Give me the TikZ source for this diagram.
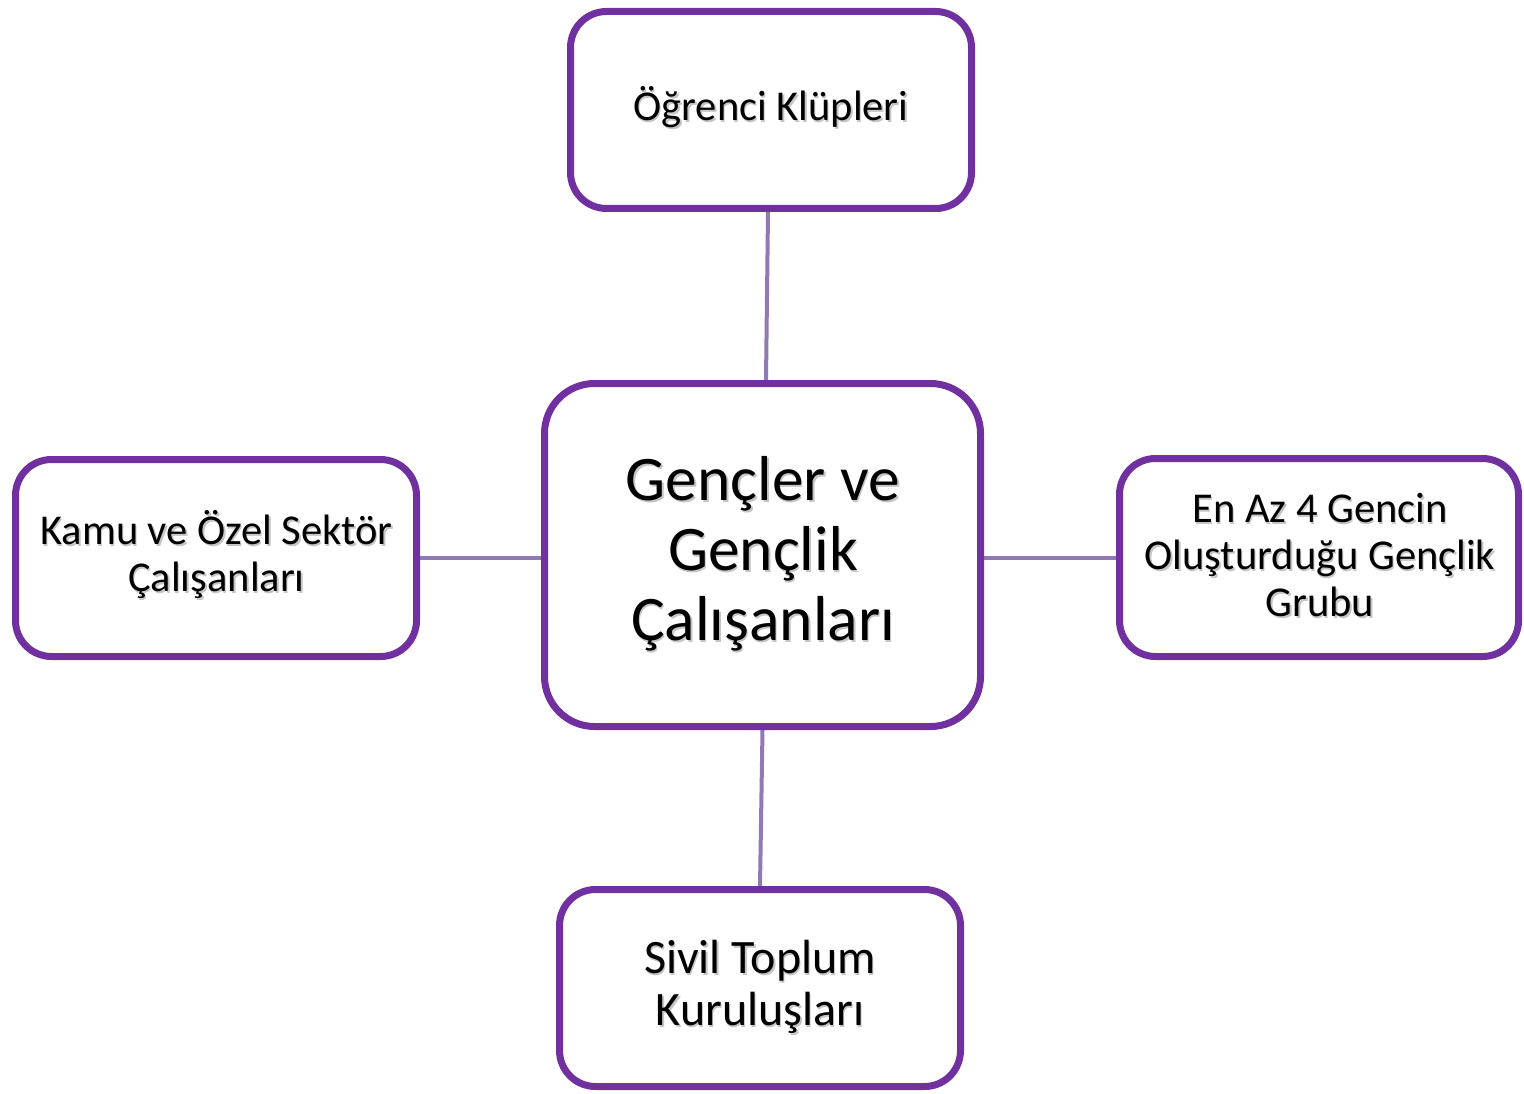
\documentclass[tikz,border=0pt]{standalone}
\usepackage{fontspec}
\setmainfont{Carlito}
\usetikzlibrary{shadows,backgrounds}
\definecolor{boxpurple}{HTML}{7030A0}
\definecolor{linkpurple}{HTML}{8F7AB5}
\tikzset{
  box/.style={draw=boxpurple, line width=7pt, fill=white, rounded corners=36pt,
    drop shadow={shadow xshift=2pt, shadow yshift=-3pt, opacity=0.25, fill=black}},
  txt/.style={align=center, text=black, inner sep=0pt},
  txtshadow/.style={align=center, text=black!45, opacity=0.5, inner sep=0pt},
  link/.style={draw=linkpurple, line width=4pt},
  small/.style={font=\fontsize{42.5}{47}\selectfont},
  mid/.style={font=\fontsize{48}{52}\selectfont},
  big/.style={font=\fontsize{63.5}{70}\selectfont}
}
\begin{document}
\begin{tikzpicture}[x=1pt,y=-1pt]
\useasboundingbox (0,0) rectangle (1524,1094);
% boxes
\node[box, minimum width=401pt, minimum height=197pt] (top) at (771,110) {};
\node[box, rounded corners=50pt, minimum width=436pt, minimum height=343pt] (center) at (762.5,555) {};
\node[box, minimum width=401pt, minimum height=197pt] (left) at (216,558) {};
\node[box, minimum width=399pt, minimum height=198pt] (right) at (1319,557.5) {};
\node[box, minimum width=401pt, minimum height=197pt] (bottom) at (760,988) {};
% connectors
\begin{scope}[on background layer]
\draw[link] ([xshift=-3pt]top.south) -- ([xshift=3.5pt]center.north);
\draw[link] (left.east) -- (left.east -| center.west);
\draw[link] (center.east |- right.west) -- (right.west);
\draw[link] (center.south) -- (bottom.north);
\end{scope}
% text shadows
\node[txtshadow, small] (topS) at (772.5,109) {Öğrenci Klüpleri};
\node[txtshadow, big] (centerS) at (764.5,556) {Gençler ve\\Gençlik\\Çalışanları};
\node[txtshadow, small] (leftS) at (218,557) {Kamu ve Özel Sektör\\Çalışanları};
\node[txtshadow, small] (rightS) at (1321.5,557) {En Az 4 Gencin\\Oluşturduğu Gençlik\\Grubu};
\node[txtshadow, mid] (bottomS) at (761.5,989) {Sivil Toplum\\Kuruluşları};
% texts
\node[txt, small] (topT) at (771,107) {Öğrenci Klüpleri};
\node[txt, big] (centerT) at (763,554) {Gençler ve\\Gençlik\\Çalışanları};
\node[txt, small] (leftT) at (216.5,555) {Kamu ve Özel Sektör\\Çalışanları};
\node[txt, small] (rightT) at (1320,555) {En Az 4 Gencin\\Oluşturduğu Gençlik\\Grubu};
\node[txt, mid] (bottomT) at (760,987) {Sivil Toplum\\Kuruluşları};
\end{tikzpicture}
\end{document}
